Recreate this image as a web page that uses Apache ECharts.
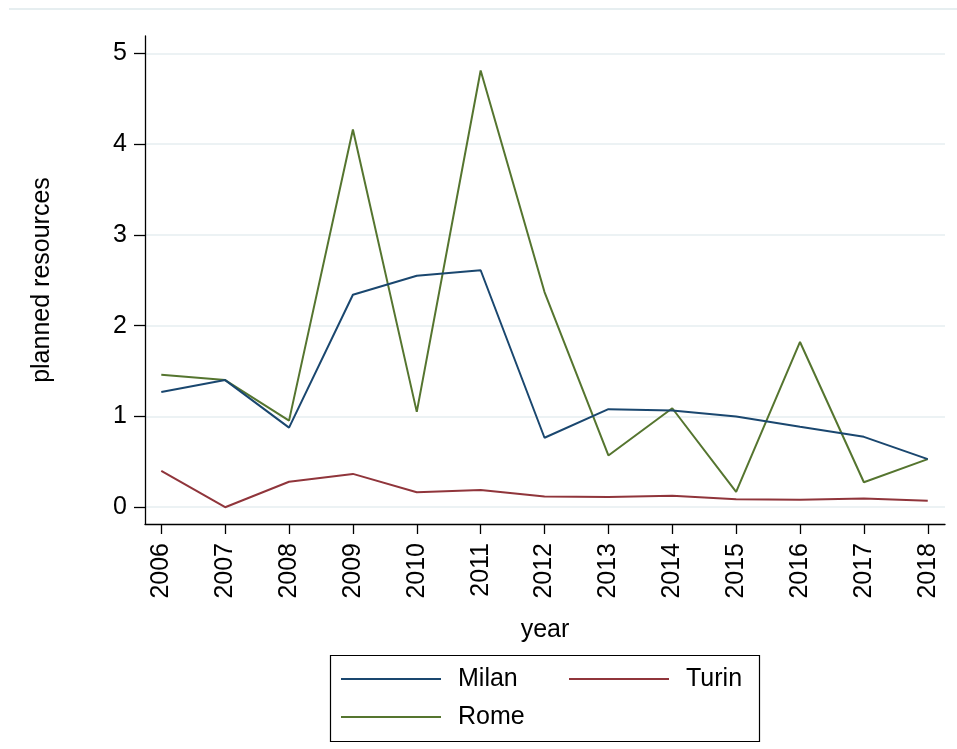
<!DOCTYPE html>
<html>
<head>
<meta charset="utf-8">
<script src="https://cdn.jsdelivr.net/npm/echarts@6/dist/echarts.min.js"></script>
<style>
html,body{margin:0;padding:0;background:#fff;}
#chart{width:957px;height:749px;}
</style>
</head>
<body>
<div id="chart"></div>
<script>
var years = [2006,2007,2008,2009,2010,2011,2012,2013,2014,2015,2016,2017,2018];
var milan = [1.27,1.40,0.877,2.34,2.55,2.61,0.765,1.08,1.065,1.0,0.885,0.775,0.53];
var turin = [0.40,0.0,0.28,0.367,0.165,0.19,0.117,0.113,0.125,0.088,0.082,0.095,0.07];
var rome  = [1.46,1.40,0.954,4.16,1.05,4.81,2.37,0.57,1.09,0.17,1.82,0.275,0.53];
var yTicks = [0,1,2,3,4,5];
var seriesNames = ['Milan','Turin','Rome'];
var seriesColors = ['#1a476f','#90353b','#55752f'];

function pairs(vals){ return years.map(function(y,i){ return [y, vals[i]]; }); }

var font = '"Liberation Sans", Arial, Helvetica, sans-serif';
var fs = 25;
var chart = echarts.init(document.getElementById('chart'), null, {renderer:'canvas'});
var option = {
  backgroundColor:'#ffffff',
  animation:false,
  textStyle:{fontFamily:font},
  grid:{left:145,right:12,top:36,bottom:225},
  xAxis:{
    type:'value', min:2005.745, max:2018.27,
    name:'year', nameLocation:'middle', nameGap:94,
    nameTextStyle:{fontSize:fs,color:'#000',fontFamily:font},
    axisLine:{show:true,onZero:false,lineStyle:{color:'#000',width:1.3}},
    axisTick:{show:true,length:10,customValues:years,lineStyle:{color:'#000',width:1.3}},
    axisLabel:{customValues:years,rotate:90,margin:19,fontSize:fs,color:'#000',fontFamily:font,
      formatter:function(v){return String(v);}},
    splitLine:{show:false}
  },
  yAxis:{
    type:'value', min:-0.185, max:5.19,
    name:'planned resources', nameLocation:'middle', nameGap:90, nameRotate:90,
    nameTextStyle:{fontSize:fs,color:'#000',fontFamily:font},
    axisLine:{show:true,onZero:false,lineStyle:{color:'#000',width:1.3}},
    axisTick:{show:true,length:11,customValues:yTicks,lineStyle:{color:'#000',width:1.3}},
    axisLabel:{customValues:yTicks,margin:18,fontSize:fs,color:'#000',fontFamily:font,
      formatter:function(v){return String(v);}},
    splitLine:{show:true,lineStyle:{color:'#e6eef0',width:1.5}}
  },
  legend:[
    {data:['Milan','Rome'],orient:'vertical',left:341,top:665,padding:0,itemGap:10,
     itemWidth:100,itemHeight:2,icon:'rect',
     textStyle:{fontSize:fs,lineHeight:28,color:'#000',fontFamily:font,padding:[0,0,0,12]}},
    {data:['Turin'],orient:'vertical',left:569,top:665,padding:0,itemGap:10,
     itemWidth:100,itemHeight:2,icon:'rect',
     textStyle:{fontSize:fs,lineHeight:28,color:'#000',fontFamily:font,padding:[0,0,0,12]}}
  ],
  graphic:[
    {type:'line',shape:{x1:9,y1:9,x2:957,y2:9},style:{stroke:'#e6eef0',lineWidth:2},silent:true},
    {type:'rect',shape:{x:330.5,y:655.5,width:429,height:86},style:{fill:'none',stroke:'#000',lineWidth:1.2},silent:true}
  ],
  series:[milan,turin,rome].map(function(vals,i){
    return {
      name:seriesNames[i], type:'line', data:pairs(vals),
      symbol:'none', showSymbol:false,
      lineStyle:{color:seriesColors[i],width:2},
      itemStyle:{color:seriesColors[i]},
      z:[3,2,1][i]
    };
  })
};
chart.setOption(option);
</script>
</body>
</html>
